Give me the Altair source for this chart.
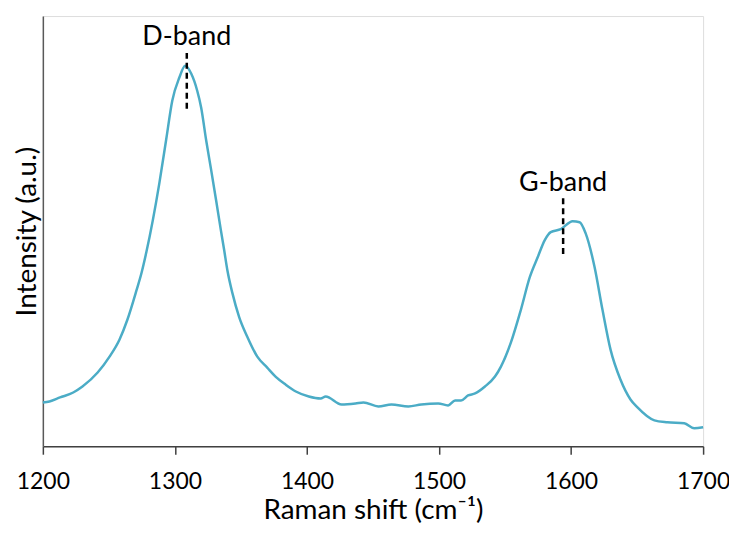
import altair as alt
import pandas as pd

# Raman spectrum (arbitrary intensity units)
shift = [1200, 1205, 1213, 1223, 1230, 1241.5, 1250.5, 1258, 1264, 1271, 1274.7, 1278.4,
         1288.2, 1293.4, 1298, 1303.3, 1307.8, 1312.4, 1316.9, 1319.9, 1323.7, 1327.5,
         1331.2, 1334.8, 1337.3, 1339.7, 1343.5, 1348.6, 1354.8, 1362.4, 1369.9, 1376.2,
         1383.8, 1391.6, 1401.4, 1410.4, 1414.2, 1426.2,
         1436.8, 1442.8, 1454.1, 1464, 1476.8, 1486.6, 1499.4, 1506.9, 1512.2, 1516.7,
         1522, 1527.3, 1534.8, 1542.4, 1546.9, 1554.4, 1562, 1568.8, 1574.8, 1580.1,
         1584.6, 1592.2, 1601.2, 1606.5, 1611, 1617.8, 1623.8, 1629.9, 1637.4, 1645,
         1650.3, 1663.1, 1672.9, 1685.7, 1693.2, 1700]
intensity = [44, 45, 49, 54, 60, 74, 90, 107, 127, 157, 174, 195,
             264, 308, 347, 370, 382, 374, 357, 340, 307, 277,
             247, 217, 197, 177, 154, 130, 110, 90, 79, 70,
             62, 55, 50, 48, 50, 42,
             43, 44, 40, 42, 40, 42, 43, 41, 46, 46,
             51, 53, 60, 70, 80, 104, 137, 170, 190, 207,
             215, 218, 226, 225, 214, 180, 137, 97, 67, 47,
             39, 26, 24, 23, 18, 19]

# band annotations
band_names = ["D-band", "G-band"]
band_pos = [1309, 1594]
band_label_y = [403, 256]
band_rule_top = [395, 249]
band_rule_bottom = [335, 189]

x_ticks = [1200, 1300, 1400, 1500, 1600, 1700]

spec = pd.DataFrame({"shift": shift, "intensity": intensity})
bands = pd.DataFrame({"name": band_names, "pos": band_pos, "ly": band_label_y,
                      "top": band_rule_top, "bottom": band_rule_bottom})

FONT = "Lato"
xs = alt.Scale(domain=[1200, 1700], nice=False)
ys = alt.Scale(domain=[0, 432], nice=False, zero=True)

line = alt.Chart(spec).mark_line(color="#4BACC6", strokeWidth=2.5, interpolate="monotone").encode(
    x=alt.X("shift:Q", scale=xs,
            axis=alt.Axis(title="Raman shift (cm⁻¹)", values=x_ticks, format="d", grid=False,
                          domainColor="#404040", domainWidth=1.5, tickColor="#404040",
                          tickWidth=1.5, tickSize=8, labelFont=FONT, labelFontSize=23,
                          labelColor="#000000", labelPadding=16, titleFont=FONT,
                          titleFontSize=28, titleFontWeight="normal", titleColor="#000000",
                          titlePadding=4, labelFlush=False)),
    y=alt.Y("intensity:Q", scale=ys,
            axis=alt.Axis(title="Intensity (a.u.)", labels=False, ticks=False, grid=False,
                          domainColor="#595959", domainWidth=1.5, titleFont=FONT,
                          titleFontSize=28, titleFontWeight="normal", titleColor="#000000",
                          titlePadding=1)),
)

rules = alt.Chart(bands).mark_rule(color="#000000", strokeWidth=2.5, strokeDash=[6, 4]).encode(
    x=alt.X("pos:Q", scale=xs),
    y=alt.Y("top:Q", scale=ys),
    y2="bottom:Q",
)

labels = alt.Chart(bands).mark_text(font=FONT, fontSize=27, color="#000000",
                                    baseline="alphabetic", align="center").encode(
    x=alt.X("pos:Q", scale=xs),
    y=alt.Y("ly:Q", scale=ys),
    text="name:N",
)

chart = alt.layer(line, rules, labels).properties(
    width=663, height=432,
    padding={"left": 35, "top": 7, "right": 26, "bottom": 78},
    autosize=alt.AutoSizeParams(type="none"),
).configure_view(stroke="#808080", strokeWidth=1.5).configure(background="white")

chart.save("out.html", embed_options={"renderer": "svg", "actions": False})
